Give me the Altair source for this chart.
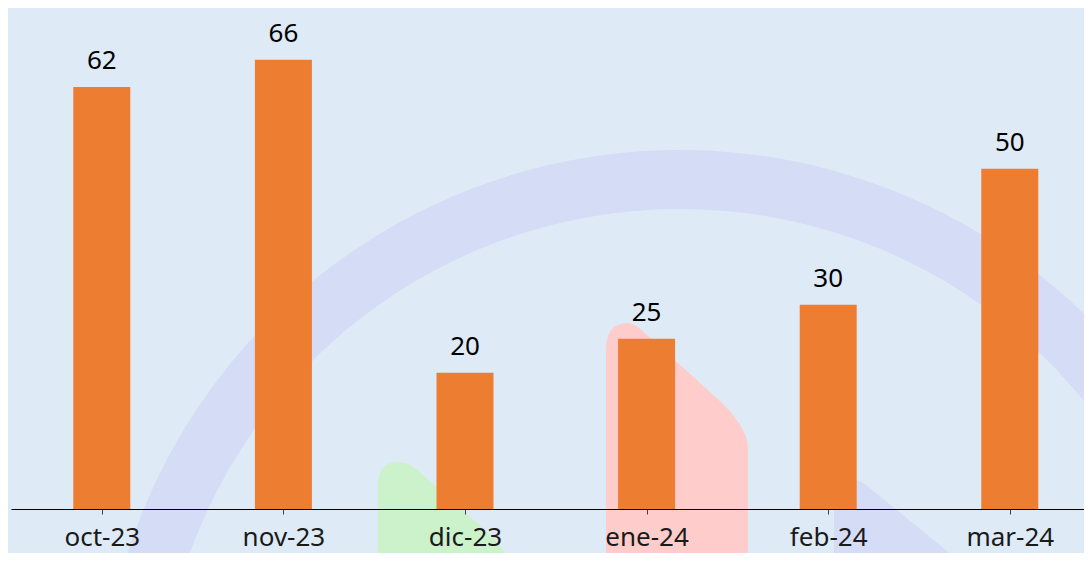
import json
import altair as alt
import pandas as pd

# ---- data ----
months = ["oct-23", "nov-23", "dic-23", "ene-24", "feb-24", "mar-24"]
values = [62, 66, 20, 25, 30, 50]

df = pd.DataFrame({"mes": months, "valor": values, "i": list(range(len(months)))})
one = pd.DataFrame({"d": [0]})

# ---- layout ----
W, H = 1073, 501
STEP = 181.6                      # px per category, as in the reference
FONT = "Noto Sans"
FS = 26
BG = "#DEEBF7"
LAV = "#D4DCF6"

# category positions: index scale whose last band runs past the right edge
x_scale = alt.Scale(domain=[-0.5, -0.5 + W / STEP], nice=False, zero=False, padding=0)
y_scale = alt.Scale(domain=[0, 73.6], nice=False, zero=True, padding=0)

label_expr = json.dumps(months) + "[datum.value]"

x_enc = alt.X(
    "i:Q", scale=x_scale,
    axis=alt.Axis(
        title=None, values=list(range(len(months))), labelExpr=label_expr,
        labelAngle=0, labelFont=FONT, labelFontSize=FS, labelColor="#1A1A1A",
        labelOverlap=False, labelFlush=False,
        domainColor="#000000", domainWidth=1, tickColor="#404040", tickSize=5, tickWidth=1,
        labelPadding=10, grid=False, zindex=1,
    ),
)
y_enc = alt.Y("valor:Q", scale=y_scale, axis=None)

# ---- decorative background shapes ----
big_arc = alt.Chart(one).mark_arc(color=LAV).encode(
    x=alt.value(669), y=alt.value(722),
    radius=alt.value(580), radius2=alt.value(521),
    theta=alt.value(4.35), theta2=alt.value(8.2),
)

pink_path = ("M -0.473 1 L -0.473 -0.8 Q -0.473 -0.98 -0.33 -0.98 "
             "Q -0.28 -0.98 -0.2 -0.9 L 0.22 -0.52 Q 0.473 -0.3 0.473 -0.15 L 0.473 1 Z")
pink = alt.Chart(one).mark_point(shape=pink_path, filled=True, color="#FFCCCC", opacity=1, strokeWidth=0).encode(
    x=alt.value(666), y=alt.value(462), size=alt.value(90000),
)

green_path = ("M -0.67 1 L -0.67 -0.35 Q -0.67 -0.58 -0.47 -0.58 "
              "Q -0.35 -0.58 -0.23 -0.46 L 0.25 -0.03 Q 0.67 0.3 0.67 0.55 L 0.67 1 Z")
green = alt.Chart(one).mark_point(shape=green_path, filled=True, color="#CCF2CC", opacity=1, strokeWidth=0).encode(
    x=alt.value(434), y=alt.value(512), size=alt.value(40000),
)

lav_path = ("M -0.86 0.8 L -0.86 -0.45 Q -0.86 -0.61 -0.7 -0.61 "
            "Q -0.62 -0.61 -0.54 -0.55 L 1.12 0.8 Z")
lav = alt.Chart(one).mark_point(shape=lav_path, filled=True, color=LAV, opacity=1, strokeWidth=0).encode(
    x=alt.value(909), y=alt.value(532), size=alt.value(40000),
)

# ---- data marks ----
base = alt.Chart(df)
bars = base.mark_bar(color="#ED7D31", size=57).encode(x=x_enc, y=y_enc)
labels = base.mark_text(font=FONT, fontSize=FS, color="#000000", baseline="alphabetic", dy=-18).encode(
    x=x_enc, y=y_enc, text="valor:Q"
)

chart = alt.layer(big_arc, lav, green, pink, bars, labels).properties(
    width=W, height=H,
    background=BG,
    padding={"left": 3, "top": 0, "right": 0, "bottom": 44},
    autosize=alt.AutoSizeParams(type="none"),
).configure_view(stroke=None)

chart.save("out.html", embed_options={"renderer": "svg", "actions": False})
